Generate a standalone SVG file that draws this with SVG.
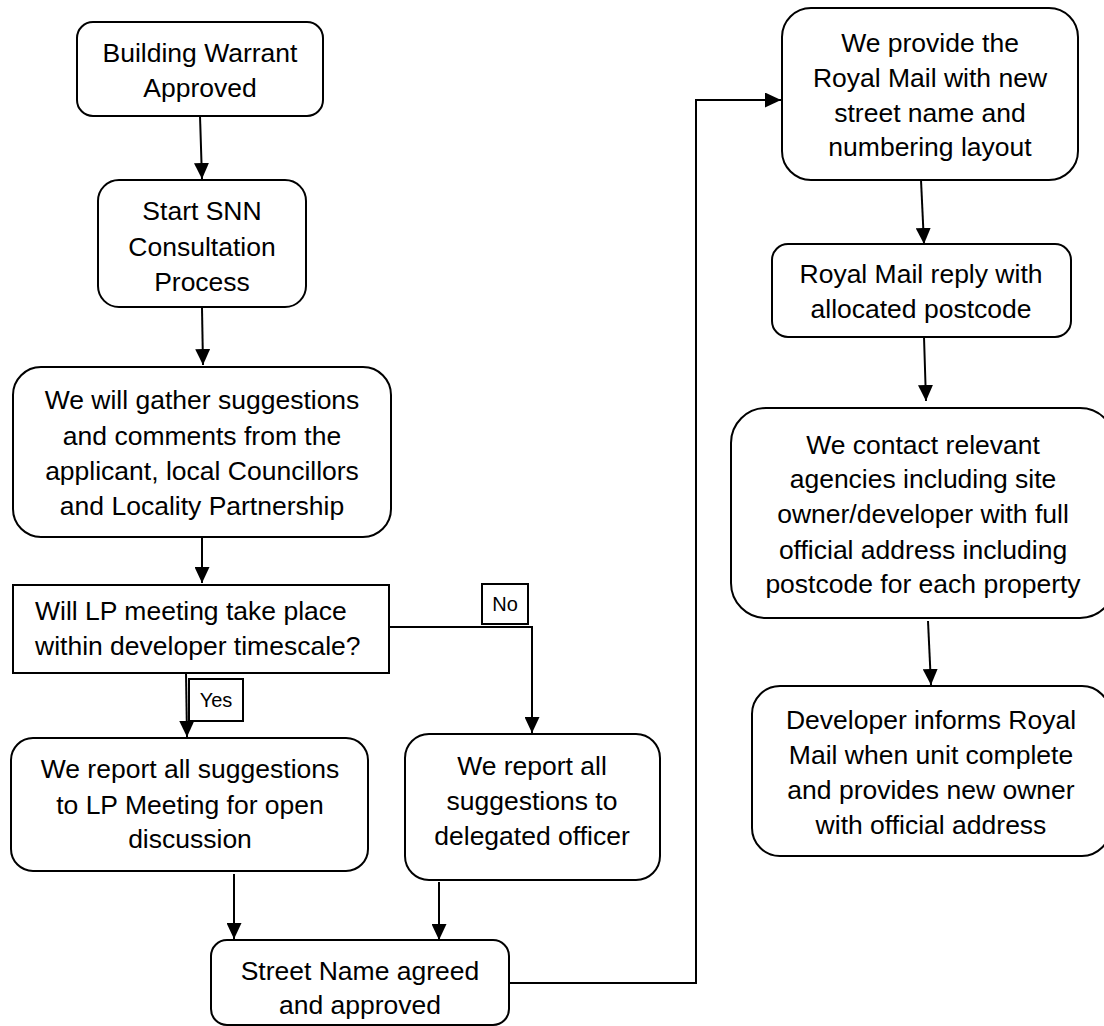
<svg xmlns="http://www.w3.org/2000/svg" width="1104" height="1026" viewBox="0 0 1104 1026">
<style>
.box{fill:#fff;stroke:#000;stroke-width:2}
.t{font-family:"Liberation Sans",Arial,sans-serif;font-size:26.5px;fill:#000;text-anchor:middle}
.tl{font-family:"Liberation Sans",Arial,sans-serif;font-size:26.5px;fill:#000}
.lab{font-family:"Liberation Sans",Arial,sans-serif;font-size:20px;fill:#000;text-anchor:middle}
.c{fill:none;stroke:#000;stroke-width:2}
</style>
<defs>
<marker id="ah" markerUnits="userSpaceOnUse" markerWidth="16" markerHeight="15" refX="16" refY="7.5" orient="auto">
<path d="M0,0 L16,7.5 L0,15 z" fill="#000"/>
</marker>
</defs>
<rect width="1104" height="1026" fill="#fff"/>
<g id="connectors">
<line class="c" x1="200" y1="116" x2="202" y2="179" marker-end="url(#ah)"/>
<line class="c" x1="202" y1="308" x2="203" y2="365" marker-end="url(#ah)"/>
<line class="c" x1="202" y1="538" x2="202" y2="583" marker-end="url(#ah)"/>
<line class="c" x1="186" y1="673" x2="187" y2="737" marker-end="url(#ah)"/>
<polyline class="c" points="389,627 532,627 532,733" marker-end="url(#ah)"/>
<line class="c" x1="234" y1="874" x2="234" y2="939" marker-end="url(#ah)"/>
<line class="c" x1="439" y1="882" x2="439" y2="940" marker-end="url(#ah)"/>
<polyline class="c" points="509,983 696,983 696,100 781,100" marker-end="url(#ah)"/>
<line class="c" x1="921" y1="180" x2="924" y2="244" marker-end="url(#ah)"/>
<line class="c" x1="924" y1="337" x2="926" y2="401" marker-end="url(#ah)"/>
<line class="c" x1="928" y1="621" x2="931" y2="685" marker-end="url(#ah)"/>
</g>
<g id="label-no">
<rect class="box" x="482" y="584" width="46" height="40"/>
<text class="lab" x="505" y="611">No</text>
</g>
<g id="label-yes">
<rect class="box" x="189" y="679" width="54" height="42"/>
<text class="lab" x="216" y="707">Yes</text>
</g>
<g id="n1">
<rect class="box" x="77" y="22" width="246" height="94" rx="16"/>
<text class="t" x="200" y="62">Building Warrant</text>
<text class="t" x="200" y="97">Approved</text>
</g>
<g id="n2">
<rect class="box" x="98" y="180" width="208" height="127" rx="21"/>
<text class="t" x="202" y="220">Start SNN</text>
<text class="t" x="202" y="256">Consultation</text>
<text class="t" x="202" y="291">Process</text>
</g>
<g id="n3">
<rect class="box" x="13" y="367" width="378" height="170" rx="28"/>
<text class="t" x="202" y="409">We will gather suggestions</text>
<text class="t" x="202" y="445">and comments from the</text>
<text class="t" x="202" y="480">applicant, local Councillors</text>
<text class="t" x="202" y="515">and Locality Partnership</text>
</g>
<g id="decision">
<rect class="box" x="13" y="585" width="376" height="88"/>
<text class="tl" x="35" y="620">Will LP meeting take place</text>
<text class="tl" x="35" y="655">within developer timescale?</text>
</g>
<g id="n4">
<rect class="box" x="11" y="738" width="357" height="133" rx="22"/>
<text class="t" x="190" y="778">We report all suggestions</text>
<text class="t" x="190" y="814">to LP Meeting for open</text>
<text class="t" x="190" y="848">discussion</text>
</g>
<g id="n5">
<rect class="box" x="405" y="734" width="255" height="146" rx="24"/>
<text class="t" x="532" y="775">We report all</text>
<text class="t" x="532" y="810">suggestions to</text>
<text class="t" x="532" y="845">delegated officer</text>
</g>
<g id="n6">
<rect class="box" x="211" y="940" width="298" height="85" rx="16"/>
<text class="t" x="360" y="980">Street Name agreed</text>
<text class="t" x="360" y="1014">and approved</text>
</g>
<g id="n7">
<rect class="box" x="782" y="8" width="296" height="172" rx="29"/>
<text class="t" x="930" y="52">We provide the</text>
<text class="t" x="930" y="87">Royal Mail with new</text>
<text class="t" x="930" y="122">street name and</text>
<text class="t" x="930" y="156">numbering layout</text>
</g>
<g id="n8">
<rect class="box" x="772" y="244" width="299" height="93" rx="16"/>
<text class="t" x="921" y="283">Royal Mail reply with</text>
<text class="t" x="921" y="318">allocated postcode</text>
</g>
<g id="n9">
<rect class="box" x="731" y="408" width="384" height="210" rx="35"/>
<text class="t" x="923" y="454">We contact relevant</text>
<text class="t" x="923" y="488">agencies including site</text>
<text class="t" x="923" y="523">owner/developer with full</text>
<text class="t" x="923" y="559">official address including</text>
<text class="t" x="923" y="593">postcode for each property</text>
</g>
<g id="n10">
<rect class="box" x="752" y="686" width="358" height="170" rx="28"/>
<text class="t" x="931" y="729">Developer informs Royal</text>
<text class="t" x="931" y="764">Mail when unit complete</text>
<text class="t" x="931" y="799">and provides new owner</text>
<text class="t" x="931" y="834">with official address</text>
</g>
</svg>
